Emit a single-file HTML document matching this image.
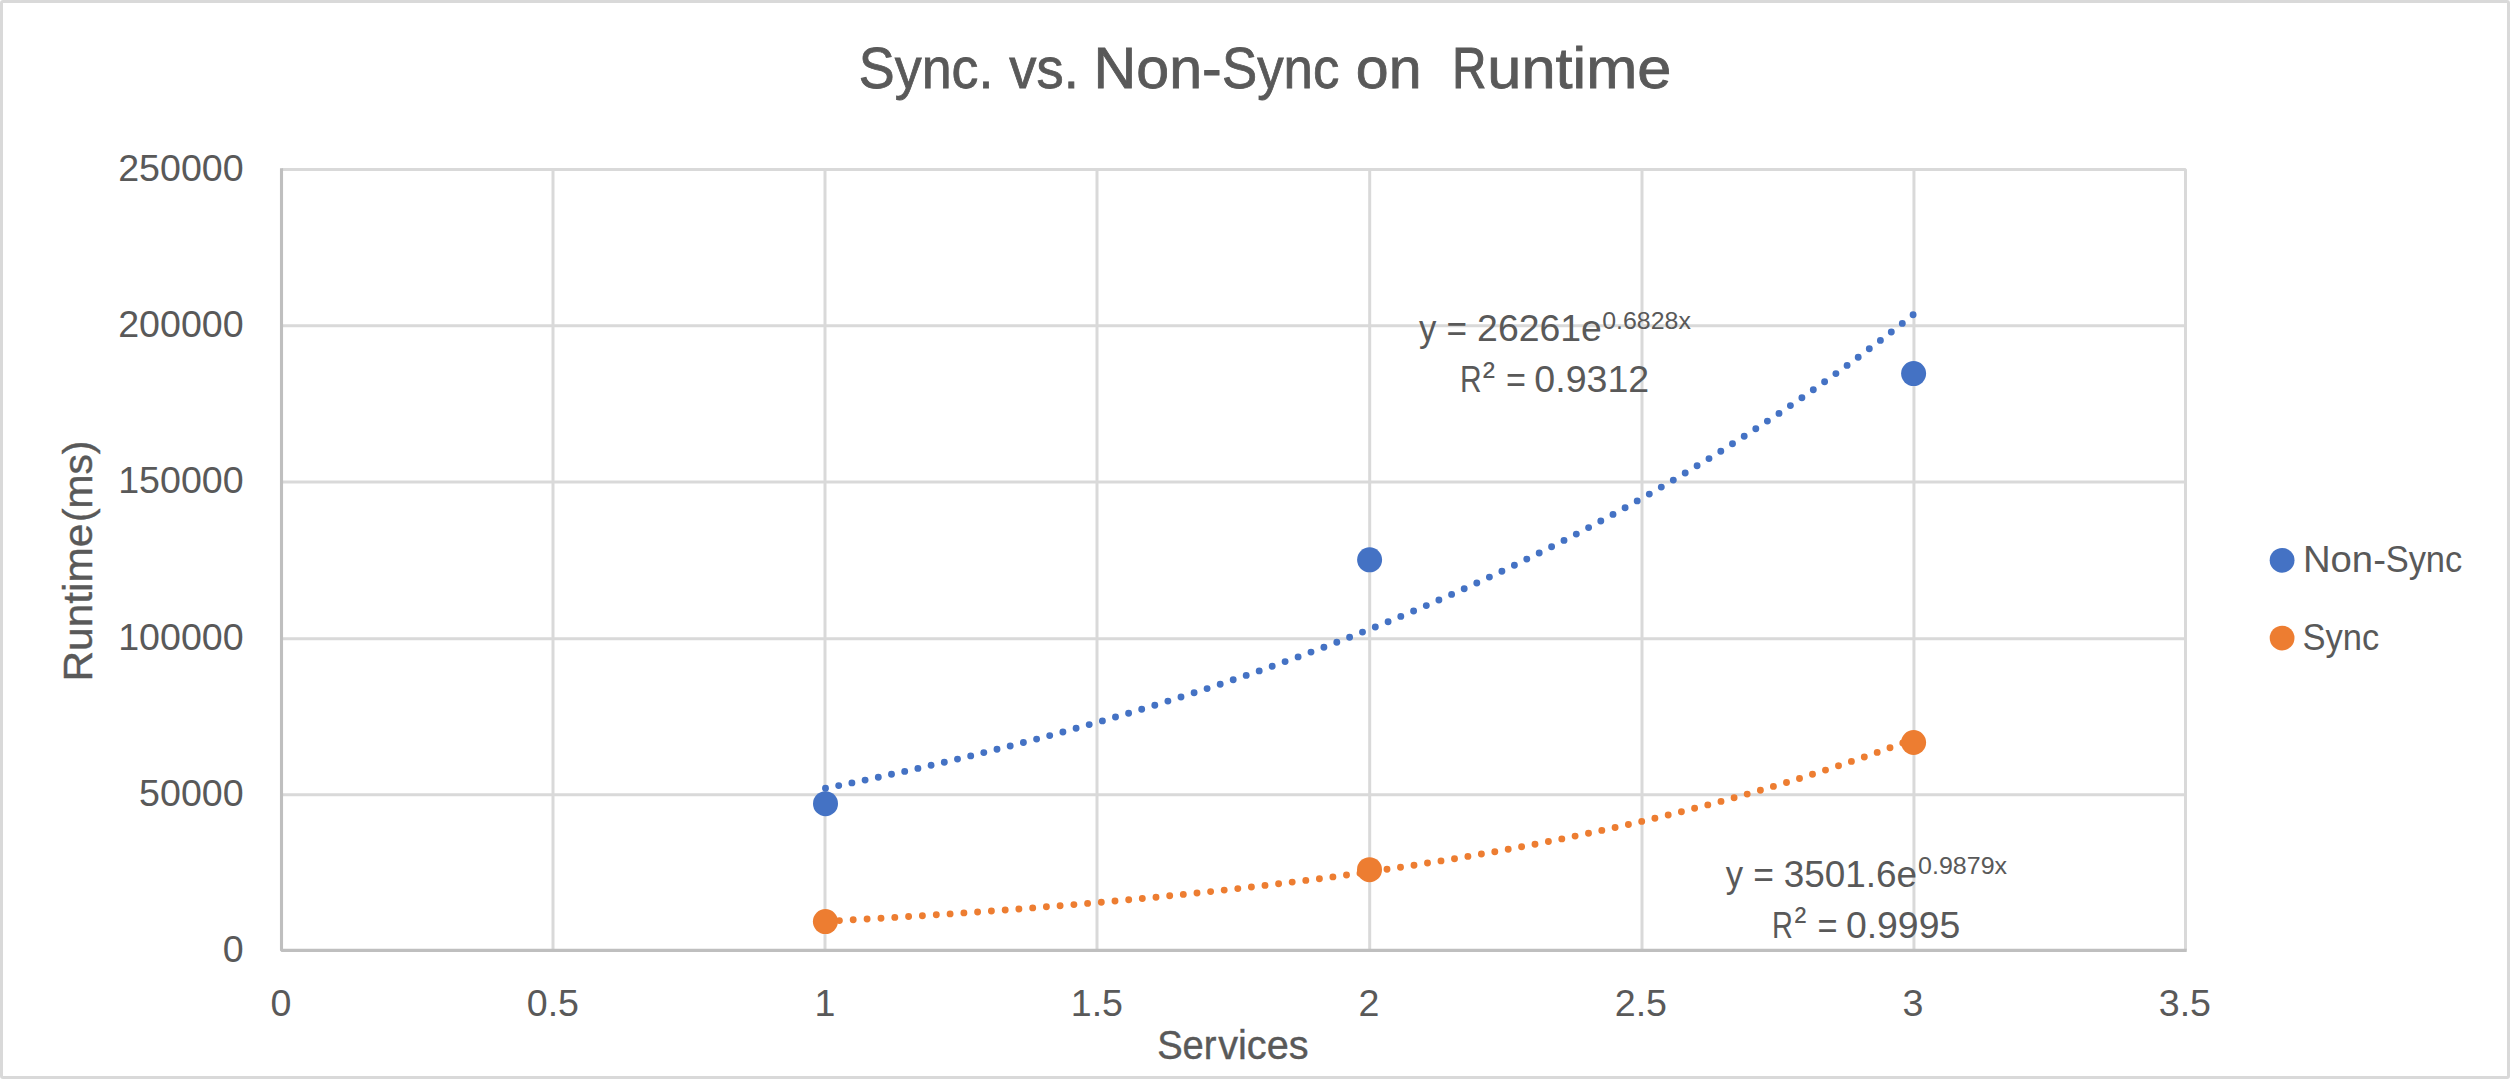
<!DOCTYPE html>
<html lang="en"><head><meta charset="utf-8"><title>Sync. vs. Non-Sync on Runtime</title>
<style>html,body{margin:0;padding:0;background:#fff;}body{width:2510px;height:1079px;overflow:hidden;}svg{display:block;}text{font-family:"Liberation Sans", Arial, sans-serif;fill:#595959;stroke:#595959;stroke-width:0;}</style></head><body>
<svg width="2510" height="1079" viewBox="0 0 2510 1079">
<desc>Scatter chart: Sync. vs. Non-Sync on  Runtime. X axis: Services. Y axis: Runtime(ms). Series: Non-Sync, Sync. Trendlines: y = 26261e^0.6828x, R² = 0.9312; y = 3501.6e^0.9879x, R² = 0.9995.</desc>
<rect x="0" y="0" width="2510" height="1079" fill="#fff"/>
<rect x="1.5" y="1.5" width="2507" height="1076" rx="1.5" fill="none" stroke="#D9D9D9" stroke-width="3"/>
<g stroke="#D9D9D9" stroke-width="3" fill="none">
<line x1="281.50" y1="794.75" x2="2185.50" y2="794.75"/>
<line x1="281.50" y1="638.75" x2="2185.50" y2="638.75"/>
<line x1="281.50" y1="481.90" x2="2185.50" y2="481.90"/>
<line x1="281.50" y1="325.65" x2="2185.50" y2="325.65"/>
<line x1="553.00" y1="169.40" x2="553.00" y2="950.40"/>
<line x1="825.00" y1="169.40" x2="825.00" y2="950.40"/>
<line x1="1097.00" y1="169.40" x2="1097.00" y2="950.40"/>
<line x1="1369.70" y1="169.40" x2="1369.70" y2="950.40"/>
<line x1="1642.00" y1="169.40" x2="1642.00" y2="950.40"/>
<line x1="1913.95" y1="169.40" x2="1913.95" y2="950.40"/>
<path d="M281.50 169.40H2185.50V950.40" stroke-linejoin="bevel"/>
</g>
<path d="M281.50 168.20V950.40H2186.70" fill="none" stroke="#BFBFBF" stroke-width="3.1" stroke-linejoin="bevel"/>
<path d="M825.5 788.3h0 M838.7 785.6h0 M851.9 782.9h0 M865.1 780.1h0 M878.3 777.2h0 M891.5 774.3h0 M904.7 771.4h0 M917.9 768.4h0 M931.1 765.3h0 M944.3 762.2h0 M957.5 759.1h0 M970.7 755.9h0 M983.8 752.6h0 M997.0 749.3h0 M1010.2 746.0h0 M1023.4 742.5h0 M1036.6 739.1h0 M1049.7 735.6h0 M1062.9 732.0h0 M1076.1 728.3h0 M1089.2 724.6h0 M1102.4 720.9h0 M1115.5 717.0h0 M1128.6 713.2h0 M1141.7 709.2h0 M1154.8 705.2h0 M1167.9 701.1h0 M1181.0 697.0h0 M1194.1 692.8h0 M1207.1 688.6h0 M1220.2 684.2h0 M1233.2 679.8h0 M1246.2 675.4h0 M1259.2 670.9h0 M1272.2 666.3h0 M1285.1 661.6h0 M1298.1 656.9h0 M1311.0 652.1h0 M1323.9 647.2h0 M1336.8 642.2h0 M1349.6 637.2h0 M1362.5 632.1h0 M1375.3 627.0h0 M1388.1 621.7h0 M1400.8 616.4h0 M1413.6 611.0h0 M1426.3 605.6h0 M1438.9 600.0h0 M1451.6 594.4h0 M1464.2 588.7h0 M1476.8 583.0h0 M1489.4 577.1h0 M1501.9 571.2h0 M1514.4 565.2h0 M1526.8 559.1h0 M1539.2 553.0h0 M1551.6 546.8h0 M1564.0 540.4h0 M1576.3 534.1h0 M1588.6 527.6h0 M1600.8 521.0h0 M1613.0 514.4h0 M1625.1 507.7h0 M1637.2 500.9h0 M1649.3 494.1h0 M1661.3 487.1h0 M1673.3 480.1h0 M1685.2 473.0h0 M1697.1 465.8h0 M1709.0 458.6h0 M1720.8 451.2h0 M1732.5 443.8h0 M1744.2 436.3h0 M1755.8 428.7h0 M1767.4 421.1h0 M1779.0 413.4h0 M1790.4 405.6h0 M1801.9 397.7h0 M1813.3 389.7h0 M1824.6 381.7h0 M1835.9 373.6h0 M1847.1 365.4h0 M1858.2 357.2h0 M1869.3 348.8h0 M1880.4 340.4h0 M1891.3 332.0h0 M1902.3 323.4h0 M1913.1 314.8h0" fill="none" stroke="#4472C4" stroke-width="6.9" stroke-linecap="round"/>
<path d="M825.5 921.3h0 M839.4 920.6h0 M853.2 919.8h0 M867.1 919.0h0 M881.0 918.2h0 M894.8 917.4h0 M908.6 916.5h0 M922.4 915.7h0 M936.3 914.8h0 M950.1 913.9h0 M963.9 912.9h0 M977.6 912.0h0 M991.4 911.0h0 M1005.2 910.0h0 M1018.9 909.0h0 M1032.7 907.9h0 M1046.4 906.8h0 M1060.1 905.7h0 M1073.9 904.6h0 M1087.6 903.4h0 M1101.3 902.2h0 M1115.0 901.0h0 M1128.7 899.8h0 M1142.3 898.5h0 M1156.0 897.2h0 M1169.7 895.8h0 M1183.3 894.4h0 M1197.0 893.0h0 M1210.6 891.6h0 M1224.2 890.1h0 M1237.8 888.6h0 M1251.4 887.0h0 M1265.0 885.4h0 M1278.6 883.8h0 M1292.2 882.1h0 M1305.8 880.4h0 M1319.4 878.7h0 M1332.9 876.9h0 M1346.5 875.0h0 M1360.0 873.2h0 M1373.5 871.2h0 M1387.0 869.3h0 M1400.5 867.2h0 M1414.0 865.2h0 M1427.5 863.0h0 M1441.0 860.9h0 M1454.5 858.7h0 M1467.9 856.4h0 M1481.4 854.0h0 M1494.8 851.7h0 M1508.2 849.2h0 M1521.6 846.7h0 M1535.0 844.2h0 M1548.4 841.5h0 M1561.8 838.9h0 M1575.1 836.1h0 M1588.5 833.3h0 M1601.8 830.4h0 M1615.1 827.5h0 M1628.4 824.5h0 M1641.7 821.4h0 M1654.9 818.2h0 M1668.2 815.0h0 M1681.4 811.7h0 M1694.6 808.3h0 M1707.8 804.9h0 M1721.0 801.4h0 M1734.1 797.7h0 M1747.2 794.1h0 M1760.4 790.3h0 M1773.4 786.4h0 M1786.5 782.5h0 M1799.5 778.5h0 M1812.5 774.3h0 M1825.5 770.1h0 M1838.5 765.8h0 M1851.4 761.4h0 M1864.3 757.0h0 M1877.2 752.4h0 M1890.0 747.7h0 M1902.8 742.9h0" fill="none" stroke="#ED7D31" stroke-width="6.9" stroke-linecap="round"/>
<circle cx="825.5" cy="803.7" r="12.5" fill="#4472C4"/>
<circle cx="1369.6" cy="559.8" r="12.5" fill="#4472C4"/>
<circle cx="1913.6" cy="373.6" r="12.5" fill="#4472C4"/>
<circle cx="825.4" cy="921.6" r="12.5" fill="#ED7D31"/>
<circle cx="1369.5" cy="869.7" r="12.5" fill="#ED7D31"/>
<circle cx="1913.6" cy="742.5" r="12.5" fill="#ED7D31"/>
<text x="243.6" y="961.90" font-size="37.6" text-anchor="end">0</text>
<text x="243.6" y="806.25" font-size="37.6" text-anchor="end">50000</text>
<text x="243.6" y="650.25" font-size="37.6" text-anchor="end">100000</text>
<text x="243.6" y="493.40" font-size="37.6" text-anchor="end">150000</text>
<text x="243.6" y="337.15" font-size="37.6" text-anchor="end">200000</text>
<text x="243.6" y="180.90" font-size="37.6" text-anchor="end">250000</text>
<text x="280.90" y="1016.1" font-size="37.6" text-anchor="middle">0</text>
<text x="552.90" y="1016.1" font-size="37.6" text-anchor="middle">0.5</text>
<text x="824.90" y="1016.1" font-size="37.6" text-anchor="middle">1</text>
<text x="1096.90" y="1016.1" font-size="37.6" text-anchor="middle">1.5</text>
<text x="1368.90" y="1016.1" font-size="37.6" text-anchor="middle">2</text>
<text x="1640.90" y="1016.1" font-size="37.6" text-anchor="middle">2.5</text>
<text x="1912.90" y="1016.1" font-size="37.6" text-anchor="middle">3</text>
<text x="2184.90" y="1016.1" font-size="37.6" text-anchor="middle">3.5</text>
<text><tspan x="858.86" y="88.20" font-size="56.8" textLength="134.56" lengthAdjust="spacingAndGlyphs" style="stroke-width:0.8">Sync.</tspan> <tspan x="1009.21" y="88.20" font-size="56.8" textLength="69.56" lengthAdjust="spacingAndGlyphs" style="stroke-width:0.8">vs.</tspan> <tspan x="1093.55" y="88.20" font-size="56.8" textLength="128.18" lengthAdjust="spacingAndGlyphs" style="stroke-width:0.8">Non-</tspan><tspan x="1222.00" y="88.20" font-size="56.8" textLength="117.29" lengthAdjust="spacingAndGlyphs" style="stroke-width:0.8">Sync</tspan> <tspan x="1355.82" y="88.20" font-size="56.8" textLength="65.72" lengthAdjust="spacingAndGlyphs" style="stroke-width:0.8">on</tspan>  <tspan x="1452.13" y="88.20" font-size="56.8" textLength="34.05" lengthAdjust="spacingAndGlyphs" style="stroke-width:1.2">R</tspan><tspan x="1487.32" y="88.20" font-size="56.8" textLength="184.11" lengthAdjust="spacingAndGlyphs" style="stroke-width:0.8">untime</tspan></text>
<text><tspan x="1157.17" y="1058.50" font-size="41.3" textLength="59.37" lengthAdjust="spacingAndGlyphs" style="stroke-width:0.4">Ser</tspan><tspan x="1218.16" y="1058.50" font-size="41.3" textLength="90.37" lengthAdjust="spacingAndGlyphs" style="stroke-width:0.4">vices</tspan></text>
<text><tspan x="2302.96" y="572.20" font-size="37.6" textLength="82.94" lengthAdjust="spacingAndGlyphs">Non-</tspan><tspan x="2385.63" y="572.20" font-size="37.6" textLength="76.68" lengthAdjust="spacingAndGlyphs">Sync</tspan></text>
<text><tspan x="2302.53" y="649.80" font-size="37.6" textLength="76.68" lengthAdjust="spacingAndGlyphs">Sync</tspan></text>
<text><tspan x="1419.02" y="341.00" font-size="37.6" textLength="17.35" lengthAdjust="spacingAndGlyphs">y</tspan> <tspan x="1446.48" y="341.00" font-size="37.6" textLength="20.56" lengthAdjust="spacingAndGlyphs">=</tspan> <tspan x="1477.12" y="341.00" font-size="37.6" textLength="124.74" lengthAdjust="spacingAndGlyphs">26261e</tspan><tspan x="1602.23" y="328.70" font-size="24.5" textLength="88.64" lengthAdjust="spacingAndGlyphs">0.6828x</tspan></text>
<text><tspan x="1460.04" y="392.40" font-size="37.6" textLength="21.65" lengthAdjust="spacingAndGlyphs">R</tspan><tspan x="1482.76" y="388.00" font-size="36.5" textLength="12.24" lengthAdjust="spacingAndGlyphs">²</tspan> <tspan x="1506.03" y="392.40" font-size="37.6" textLength="19.95" lengthAdjust="spacingAndGlyphs">=</tspan> <tspan x="1534.33" y="392.40" font-size="37.6" textLength="114.86" lengthAdjust="spacingAndGlyphs">0.9312</tspan></text>
<text><tspan x="1725.82" y="886.60" font-size="37.6" textLength="17.35" lengthAdjust="spacingAndGlyphs">y</tspan> <tspan x="1753.17" y="886.60" font-size="37.6" textLength="20.68" lengthAdjust="spacingAndGlyphs">=</tspan> <tspan x="1783.79" y="886.60" font-size="37.6" textLength="133.35" lengthAdjust="spacingAndGlyphs">3501.6e</tspan><tspan x="1918.12" y="874.30" font-size="24.5" textLength="88.94" lengthAdjust="spacingAndGlyphs">0.9879x</tspan></text>
<text><tspan x="1772.02" y="937.60" font-size="37.6" textLength="20.92" lengthAdjust="spacingAndGlyphs">R</tspan><tspan x="1794.49" y="933.30" font-size="36.5" textLength="11.78" lengthAdjust="spacingAndGlyphs">²</tspan> <tspan x="1817.62" y="937.60" font-size="37.6" textLength="20.07" lengthAdjust="spacingAndGlyphs">=</tspan> <tspan x="1845.94" y="937.60" font-size="37.6" textLength="114.23" lengthAdjust="spacingAndGlyphs">0.9995</tspan></text>
<text transform="translate(92.0 0) rotate(-90)"><tspan x="-681.58" y="0.00" font-size="41.3" textLength="157.97" lengthAdjust="spacingAndGlyphs" style="stroke-width:0.4">Runtime</tspan><tspan x="-522.02" y="0.00" font-size="41.3" textLength="81.35" lengthAdjust="spacingAndGlyphs" style="stroke-width:0.4">(ms)</tspan></text>
<circle cx="2282.1" cy="560.3" r="12.4" fill="#4472C4"/>
<circle cx="2282.1" cy="638.1" r="12.4" fill="#ED7D31"/>
</svg></body></html>
